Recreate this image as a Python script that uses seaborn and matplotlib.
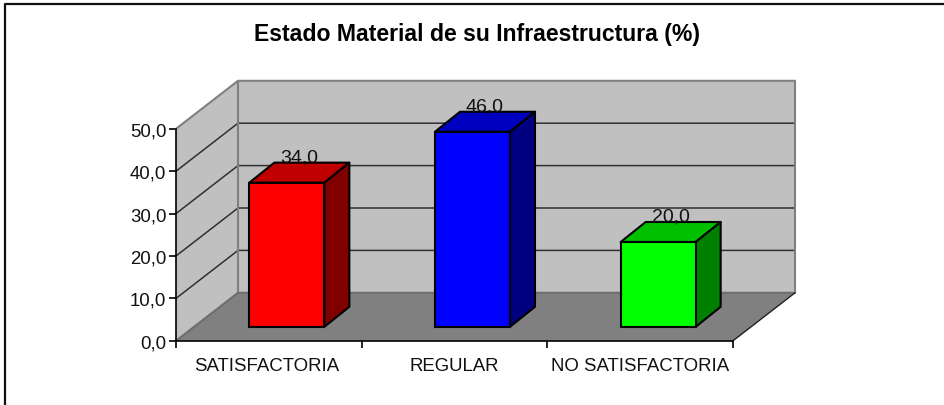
import matplotlib
matplotlib.use("Agg")
import matplotlib.pyplot as plt
from matplotlib.lines import Line2D
from matplotlib.patches import Polygon
import pandas as pd
import seaborn as sns

# data
categories = ["SATISFACTORIA", "REGULAR", "NO SATISFACTORIA"]
values = [34.0, 46.0, 20.0]
y_ticks = [0, 10, 20, 30, 40, 50]
title = "Estado Material de su Infraestructura (%)"

# colours: front, top, side
front_colors = ["#FF0000", "#0000FF", "#00FF00"]
top_colors = ["#C00000", "#0000C0", "#00C000"]
side_colors = ["#800000", "#000080", "#008000"]

# layout, in pixels of the 945x406 picture
W, H = 945, 406
LEFT, RIGHT, TOP, BOTTOM = 176, 733, 129.8, 341.8

sns.set_theme(style="white")
plt.rcParams["font.family"] = ["Liberation Sans", "DejaVu Sans"]

fig = plt.figure(figsize=(W / 100, H / 100), dpi=100)
# the chart frame only shows on its top and left side
fig.add_artist(Line2D([4.5 / W, 4.5 / W, 1], [0, 1 - 4.5 / H, 1 - 4.5 / H], transform=fig.transFigure,
                      color="#111111", linewidth=1.6))
ax = fig.add_axes([LEFT / W, 1 - BOTTOM / H, (RIGHT - LEFT) / W, (BOTTOM - TOP) / H])
ax.patch.set_visible(False)

df = pd.DataFrame({"cat": categories, "val": values})
bar_w = 75 / ((RIGHT - LEFT) / 3)
sns.barplot(data=df, x="cat", y="val", order=categories, width=bar_w, color="red",
            edgecolor="black", linewidth=1.5, ax=ax, zorder=5)
ax.set_xlim(-0.5, 2.5)
ax.set_ylim(0, 50)

# pixel -> data factors
px_x = 3 / (RIGHT - LEFT)
px_y = 50 / (BOTTOM - TOP)
wall_dx, wall_dy = 62 * px_x, 48 * px_y
bar_shift_x, bar_shift_y = 18 * px_x, 14 * px_y
bar_dx, bar_dy = 25 * px_x, 20 * px_y
x0, x1 = -0.5, 2.5


def poly(points, **kw):
    kw.setdefault("linewidth", 0)
    ax.add_patch(Polygon(points, closed=True, clip_on=False, **kw))


# walls and floor
poly([(x0, 0), (x0 + wall_dx, wall_dy), (x0 + wall_dx, 50 + wall_dy), (x0, 50)], facecolor="#C0C0C0", zorder=1)
poly([(x0 + wall_dx, wall_dy), (x1 + wall_dx, wall_dy), (x1 + wall_dx, 50 + wall_dy), (x0 + wall_dx, 50 + wall_dy)],
     facecolor="#C0C0C0", zorder=1)
poly([(x0, 0), (x1, 0), (x1 + wall_dx, wall_dy), (x0 + wall_dx, wall_dy)], facecolor="#808080", zorder=2)

# gridlines on left and back wall
for t in y_ticks[1:-1]:
    ax.plot([x0, x0 + wall_dx, x1 + wall_dx], [t, t + wall_dy, t + wall_dy], color="#303030",
            linewidth=1.1, clip_on=False, zorder=3)

# wall outlines
ax.plot([x0, x0 + wall_dx, x1 + wall_dx, x1 + wall_dx], [50, 50 + wall_dy, 50 + wall_dy, wall_dy],
        color="#808080", linewidth=1.5, clip_on=False, zorder=3)
ax.plot([x0 + wall_dx, x0 + wall_dx], [wall_dy, 50 + wall_dy], color="#808080", linewidth=1.5, clip_on=False, zorder=3)
ax.plot([x0, x0 + wall_dx, x1 + wall_dx], [0, wall_dy, wall_dy], color="#6E6E6E", linewidth=1.5, clip_on=False, zorder=3)
ax.plot([x1, x1 + wall_dx], [0, wall_dy], color="#202020", linewidth=1.0, clip_on=False, zorder=3)

# move the barplot's bars onto the floor and add their 3D faces
for i, bar in enumerate(ax.patches[:len(values)]):
    bar.set_x(bar.get_x() + bar_shift_x)
    bar.set_y(bar_shift_y)
    bar.set_facecolor(front_colors[i])
    bar.set_clip_on(False)
    xl, xr = bar.get_x(), bar.get_x() + bar.get_width()
    yb, yt = bar.get_y(), bar.get_y() + bar.get_height()
    poly([(xl, yt), (xr, yt), (xr + bar_dx, yt + bar_dy), (xl + bar_dx, yt + bar_dy)], facecolor=top_colors[i],
         edgecolor="black", linewidth=1.5, joinstyle="round", zorder=4)
    poly([(xr, yb), (xr + bar_dx, yb + bar_dy), (xr + bar_dx, yt + bar_dy), (xr, yt)], facecolor=side_colors[i],
         edgecolor="black", linewidth=1.5, joinstyle="round", zorder=4)
    # value label sits across the back edge of the top face, behind the bar
    ax.text((xl + xr) / 2 + bar_dx / 2, yt + bar_dy - 0.7, f"{values[i]:.1f}".replace(".", ","),
            ha="center", va="bottom", fontsize=14, color="#111111", zorder=6)

# axes
for name in ("top", "right"):
    ax.spines[name].set_visible(False)
for name in ("left", "bottom"):
    ax.spines[name].set_color("black")
    ax.spines[name].set_linewidth(1.2)
    ax.spines[name].set_zorder(4)
ax.set_xlabel("")
ax.set_ylabel("")
ax.set_yticks(y_ticks, [f"{t:.1f}".replace(".", ",") for t in y_ticks])
ax.set_xticks([-0.5, 0.5, 1.5, 2.5], minor=False)
ax.set_xticklabels(["", "", "", ""])
ax.tick_params(axis="both", which="major", length=5, width=1.2, color="black", bottom=True, left=True,
               labelsize=13.4, labelcolor="#111111", pad=2)
label_shift = [-2, 0, 0]
for i, c in enumerate(categories):
    ax.annotate(c, (i, 0), xytext=(label_shift[i], -25), textcoords="offset pixels", ha="center", va="center",
                fontsize=13.4, color="#111111", annotation_clip=False)

fig.text(477 / W, 1 - 35 / H, title, ha="center", va="center", fontsize=16.6, fontweight="bold", color="black")

fig.savefig("out.png", dpi=100)
